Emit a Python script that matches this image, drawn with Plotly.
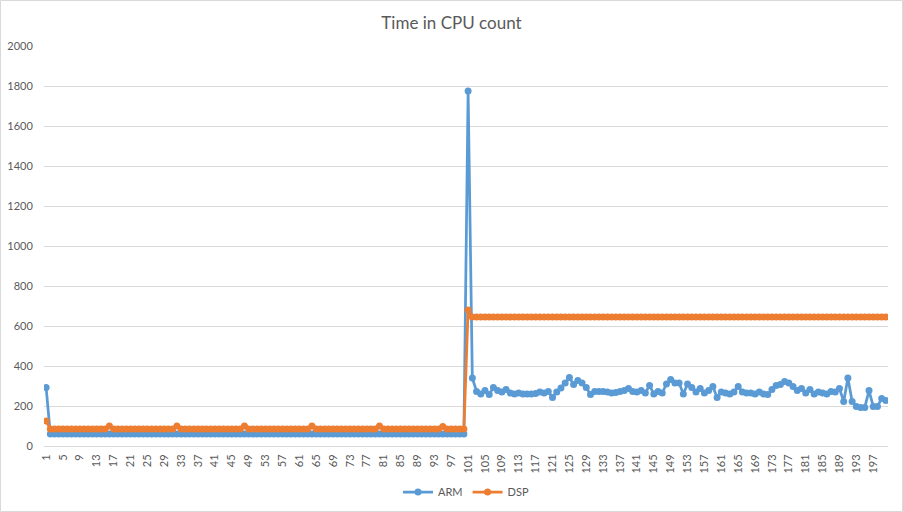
import plotly.graph_objects as go

# ---- data ----
x_index = list(range(1, 201))

arm_first = [293]
arm_low = [60] * 99  # points 2..100
arm_peak = [1775]
arm_tail = [340, 273, 260, 277, 257, 293, 277, 270, 282, 265, 260, 265, 260, 260, 260, 263,
            270, 265, 273, 242, 270, 290, 315, 343, 307, 327, 315, 293, 257, 273, 273, 273, 270,
            265, 268, 273, 277, 287, 273, 270, 277, 265, 303, 260, 273, 265, 310, 332, 315,
            315, 260, 310, 293, 270, 287, 265, 277, 298, 243, 270, 265, 260, 270, 298, 270,
            265, 265, 260, 270, 260, 257, 282, 303, 307, 323, 315, 298, 277, 287, 265, 282, 260,
            270, 265, 260, 273, 270, 287, 223, 340, 223, 198, 193, 193, 277, 198, 198, 237, 227]
ARM = arm_first + arm_low + arm_peak + arm_tail

dsp_first = [125]
dsp_low = [85] * 99
dsp_bumps = {16: 100, 32: 100, 48: 100, 64: 100, 80: 100, 95: 97}
dsp_peak = [680]
dsp_tail = [645] * 99
DSP = dsp_first + dsp_low + dsp_peak + dsp_tail
for k, v in dsp_bumps.items():
    DSP[k - 1] = v

tick_vals = list(range(1, 201, 4))
tick_text = [str(v) for v in tick_vals]
y_ticks = list(range(0, 2001, 200))

ARM_COLOR = "#5B9BD5"
DSP_COLOR = "#ED7D31"
TEXT = "#595959"
GRID = "#D9D9D9"
FONT = "Lato"

fig = go.Figure()
fig.add_trace(go.Scatter(x=x_index, y=ARM, name="ARM", mode="lines+markers",
                         line=dict(color=ARM_COLOR, width=2.75),
                         marker=dict(color=ARM_COLOR, size=7)))
fig.add_trace(go.Scatter(x=x_index, y=DSP, name="DSP", mode="lines+markers",
                         line=dict(color=DSP_COLOR, width=2.75),
                         marker=dict(color=DSP_COLOR, size=7)))

fig.update_layout(
    width=903, height=512,
    margin=dict(l=44, r=15, t=46, b=66, autoexpand=False),
    paper_bgcolor="white", plot_bgcolor="white",
    font=dict(family=FONT, color=TEXT, size=11),
    title=dict(text="Time in CPU count", x=0.5, xanchor="center", y=0.955, yanchor="middle",
               font=dict(family=FONT, size=17, color=TEXT)),
    showlegend=True,
    legend=dict(orientation="h", x=0.5, xanchor="center", y=-0.115, yanchor="middle",
                font=dict(size=11, color=TEXT), itemwidth=30),
    xaxis=dict(range=[0.5, 200.5], tickmode="array", tickvals=tick_vals, ticktext=tick_text,
               tickangle=-90, showgrid=False, showline=True, linecolor=GRID, linewidth=1,
               ticks="outside", ticklen=3, tickcolor="rgba(0,0,0,0)", automargin=False,
               zeroline=False, tickfont=dict(size=11, color=TEXT)),
    yaxis=dict(range=[0, 2000], tickmode="array", tickvals=y_ticks,
               showgrid=True, gridcolor=GRID, gridwidth=1, zeroline=False, automargin=False,
               showline=False, ticks="outside", ticklen=8, tickcolor="rgba(0,0,0,0)",
               tickfont=dict(size=11, color=TEXT)),
)

fig.add_shape(type="rect", xref="paper", yref="paper",
              x0=-43.5 / 844, x1=(902.5 - 44) / 844,
              y0=-(511.5 - 446) / 400, y1=1 + 45.5 / 400,
              line=dict(color="#D9D9D9", width=1), fillcolor="rgba(0,0,0,0)", layer="below")

fig.write_html("out.html", config={"displayModeBar": False},
               post_script="document.body.style.margin='0';document.body.style.overflow='hidden';")
